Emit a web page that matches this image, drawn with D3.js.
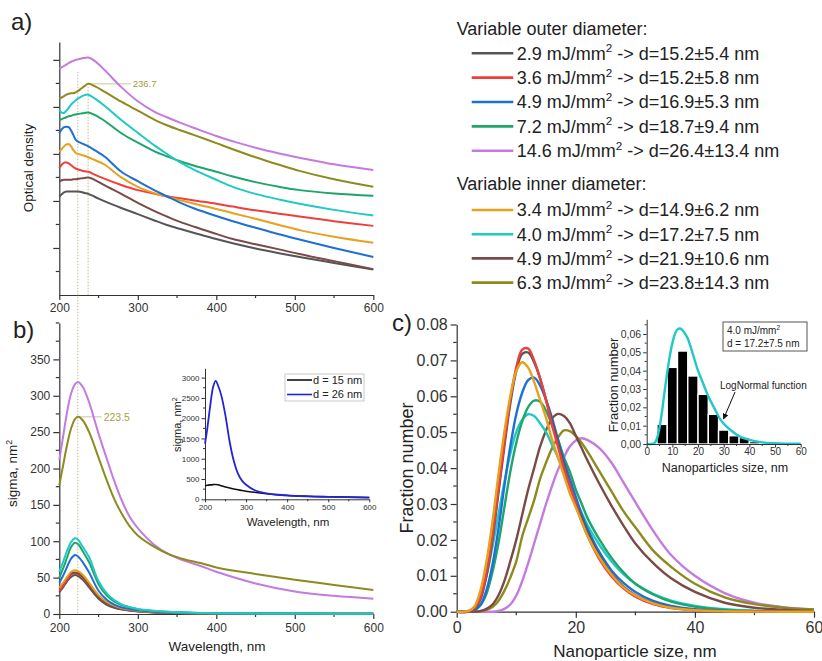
<!DOCTYPE html>
<html><head><meta charset="utf-8">
<script src="https://cdn.jsdelivr.net/npm/d3@7"></script>
<style>
body{margin:0;background:#fff}
svg{display:block}
text{font-family:"Liberation Sans",Arial,Helvetica,sans-serif}
</style>
</head><body>
<svg id="fig" width="822" height="661"></svg>
<script>
// ---------- DATA ----------
const seriesKeys = ["gray","red","blue","green","violet","orange","cyan","brown","olive"];
const seriesColors = {gray:"#555555",red:"#ef3f3c",blue:"#1f6fd4",green:"#1fa56a",violet:"#c47ade",orange:"#e6a11f",cyan:"#1ec9c6",brown:"#7a4a48",olive:"#8d8b1d"};

const legendOuterE = ["2.9","3.6","4.9","7.2","14.6"];
const legendOuterD = ["15.2±5.4","15.2±5.8","16.9±5.3","18.7±9.4","26.4±13.4"];
const legendOuterKeys = ["gray","red","blue","green","violet"];
const legendInnerE = ["3.4","4.0","4.9","6.3"];
const legendInnerD = ["14.9±6.2","17.2±7.5","21.9±10.6","23.8±14.3"];
const legendInnerKeys = ["orange","cyan","brown","olive"];

// panel a: optical density (arb. units)
const wlA = [200,203,206,209,212,215,218,221,224,228,232,237,245,258,279,300,322,337,353,372,400,421,450,480,506,550,600];
const odGray   = [2.09,2.14,2.18,2.20,2.20,2.20,2.20,2.20,2.20,2.19,2.17,2.15,2.09,1.99,1.85,1.72,1.58,1.49,1.41,1.32,1.19,1.10,0.99,0.89,0.81,0.68,0.54];
const odRed    = [2.70,2.77,2.81,2.82,2.80,2.76,2.72,2.69,2.67,2.65,2.63,2.62,2.56,2.47,2.34,2.23,2.15,2.10,2.06,2.01,1.94,1.88,1.80,1.73,1.67,1.57,1.47];
const odBlue   = [3.44,3.52,3.57,3.58,3.57,3.50,3.40,3.30,3.26,3.23,3.20,3.16,3.08,2.94,2.62,2.42,2.22,2.10,1.97,1.84,1.68,1.57,1.43,1.29,1.18,1.00,0.81];
const odGreen  = [3.72,3.74,3.76,3.78,3.80,3.81,3.83,3.84,3.85,3.86,3.87,3.88,3.83,3.70,3.44,3.24,3.05,2.95,2.85,2.75,2.62,2.52,2.40,2.30,2.23,2.16,2.11];
const odViolet = [4.81,4.84,4.87,4.90,4.93,4.96,4.98,5.00,5.01,5.03,5.04,5.05,4.98,4.78,4.42,4.12,3.89,3.78,3.67,3.55,3.38,3.27,3.13,3.01,2.92,2.78,2.66];
const odOrange = [3.05,3.10,3.16,3.20,3.21,3.16,3.08,3.02,3.00,2.98,2.96,2.93,2.87,2.77,2.50,2.30,2.16,2.09,2.02,1.94,1.83,1.74,1.62,1.49,1.38,1.24,1.11];
const odCyan   = [3.94,3.88,3.87,3.92,3.98,4.05,4.10,4.14,4.18,4.22,4.25,4.26,4.18,4.02,3.72,3.45,3.17,3.00,2.83,2.66,2.45,2.30,2.15,2.03,1.94,1.81,1.69];
const odBrown  = [2.41,2.44,2.45,2.45,2.45,2.45,2.46,2.46,2.47,2.48,2.49,2.50,2.45,2.33,2.15,1.96,1.78,1.67,1.56,1.45,1.30,1.19,1.08,0.97,0.87,0.72,0.55];
const odOlive  = [4.18,4.20,4.23,4.26,4.28,4.29,4.29,4.31,4.34,4.39,4.44,4.49,4.44,4.32,4.11,3.92,3.72,3.61,3.51,3.40,3.23,3.10,2.93,2.77,2.64,2.46,2.30];
const peakA = 236.7;

// panel b: sigma, nm^2
const wlB = [200,205,210,215,220,224,230,238,250,260,270,280,290,300,320,340,360,380,400,450,500,550,600];
const sgGray   = [30,37,45,51,53.5,52,47,36.5,21,13,8.5,6,4.5,3.5,2.2,1.5,1.1,0.8,0.6,0.4,0.3,0.2,0.2];
const sgRed    = [32,39,47,54,56,55,50,39,24,15,10,7,5,4,2.5,1.7,1.2,0.9,0.7,0.5,0.4,0.3,0.2];
const sgBlue   = [43,53,65,76,81,79,71,57,32,20,13,9,7,5,3.2,2.2,1.6,1.2,1,0.7,0.5,0.4,0.3];
const sgGreen  = [50,63,78,92,98,96,86,71,41,26,17,12,9,6.5,4,2.8,2,1.5,1.2,0.8,0.6,0.5,0.4];
const sgViolet = [212,245,278,303,316,319,312,291,248,215,183,155,133,118,96,82,73,66,58,42,31,25,21];
const sgOrange = [36,43,51,58,60,59,54,43,26,17,11.5,8,6,4.5,3,2,1.5,1.1,0.9,0.6,0.4,0.3,0.3];
const sgCyan   = [58,72,87,99,104,102,92,78,45,29,19,13,9.5,7,4.5,3,2,1.5,1.2,0.8,0.6,0.5,0.4];
const sgBrown  = [36,42,50,56,57,56,51,40,24,15,10,7,5,3.8,2.4,1.6,1.2,0.9,0.7,0.5,0.4,0.3,0.2];
const sgOlive  = [177,205,233,255,268,271,266,250,215,185,158,137,120,108,93,82,75,70,64,55,47,40,33];
const peakB = 223.5;

// panel b inset
const wlBi = [200,205,212,220,226,232,240,250,260,270,280,290,300,320,350,400,450,500,600];
const sgD15 = [335,345,355,362,365,358,335,305,278,255,236,218,200,172,135,95,75,62,45];
const sgD26 = [1370,1700,2250,2780,2920,2800,2550,2050,1420,950,640,460,360,230,145,95,72,60,42];
const insetBLabels = ["d = 15 nm","d = 26 nm"];

// panel c: fraction number vs size
const sizeC = [0,2,3,4,5,6,7,8,9,10,11,12,13,14,15,16,17,18,19,20,21,22,24,26,28,30,33,36,40,45,50,55,60];
const fnGray   = [0,0,0.0008,0.0035,0.010,0.020,0.033,0.046,0.058,0.067,0.0718,0.0722,0.0695,0.065,0.059,0.053,0.047,0.041,0.035,0.030,0.026,0.022,0.0155,0.0105,0.007,0.0046,0.0024,0.0012,0.0005,0.00015,0.00005,0,0];
const fnRed    = [0,0,0.001,0.004,0.011,0.021,0.034,0.047,0.059,0.068,0.073,0.0733,0.070,0.065,0.059,0.052,0.046,0.040,0.035,0.030,0.025,0.021,0.0145,0.0098,0.0065,0.0042,0.0021,0.0010,0.0004,0.0001,0.00003,0,0];
const fnBlue   = [0,0,0.0005,0.002,0.006,0.013,0.023,0.035,0.046,0.055,0.061,0.0645,0.0652,0.063,0.059,0.054,0.048,0.042,0.037,0.032,0.027,0.023,0.0165,0.0115,0.008,0.0055,0.003,0.0016,0.0007,0.0002,0.00006,0,0];
const fnGreen  = [0,0,0.0004,0.0018,0.005,0.011,0.019,0.029,0.039,0.047,0.053,0.057,0.0588,0.0585,0.056,0.052,0.048,0.043,0.039,0.034,0.030,0.026,0.020,0.015,0.011,0.0078,0.0048,0.0028,0.0014,0.0005,0.00017,0.00005,0];
const fnViolet = [0,0,0,0,0,0,0.0002,0.0008,0.002,0.0045,0.0085,0.0135,0.019,0.0245,0.030,0.035,0.0395,0.043,0.046,0.0477,0.0483,0.0478,0.0455,0.0415,0.036,0.0305,0.0225,0.0158,0.0100,0.0052,0.0025,0.0012,0.0006];
const fnOrange = [0,0.0002,0.0015,0.006,0.014,0.025,0.038,0.050,0.060,0.067,0.0695,0.068,0.064,0.059,0.054,0.048,0.043,0.038,0.033,0.029,0.025,0.021,0.0150,0.0103,0.0068,0.0045,0.0023,0.0011,0.0004,0.00012,0.00003,0,0];
const fnCyan   = [0,0.0002,0.0012,0.0045,0.010,0.018,0.027,0.036,0.044,0.050,0.0535,0.055,0.0545,0.0525,0.050,0.0465,0.043,0.039,0.035,0.031,0.0275,0.024,0.0185,0.014,0.0105,0.0078,0.005,0.0031,0.0016,0.0007,0.0003,0.0001,0.00004];
const fnBrown  = [0,0,0,0.0002,0.0008,0.002,0.0045,0.0085,0.014,0.020,0.027,0.034,0.040,0.046,0.0505,0.0538,0.0551,0.0545,0.0525,0.049,0.0455,0.042,0.0355,0.0295,0.024,0.019,0.0135,0.0093,0.0055,0.0025,0.0011,0.0005,0.0002];
const fnOlive  = [0,0,0,0.0001,0.0005,0.0013,0.003,0.0058,0.0095,0.014,0.021,0.026,0.031,0.037,0.0415,0.0455,0.0485,0.0505,0.0503,0.049,0.047,0.0445,0.039,0.0335,0.028,0.0235,0.017,0.0125,0.0078,0.0040,0.0021,0.0011,0.0006];

// panel c inset: histogram + lognormal fit for 4.0 mJ/mm2
const binStart = [4,8,12,16,20,24,28,32,36,40,44,48,52,56];
const binValue = [0.0107,0.0418,0.0507,0.0371,0.0271,0.0162,0.0076,0.0045,0.0035,0.0013,0.0007,0.0005,0.0003,0.0002];
const binWidth = 4;
const sizeCi = [0,2,3,4,5,6,7,8,9,10,11,12,13,14,15,16,17,18,20,22,24,26,28,30,33,36,40,45,50,55,60];
const fitCi  = [0,0,0.0005,0.003,0.009,0.018,0.029,0.039,0.048,0.055,0.060,0.0625,0.063,0.062,0.060,0.0575,0.0535,0.049,0.040,0.033,0.026,0.0205,0.015,0.011,0.0072,0.0043,0.0022,0.0009,0.0004,0.0002,0.0001];
const insetCBox = ["4.0 mJ/mm","d = 17.2±7.5 nm"];

const dataA = {gray:odGray,red:odRed,blue:odBlue,green:odGreen,violet:odViolet,orange:odOrange,cyan:odCyan,brown:odBrown,olive:odOlive};
const dataB = {gray:sgGray,red:sgRed,blue:sgBlue,green:sgGreen,violet:sgViolet,orange:sgOrange,cyan:sgCyan,brown:sgBrown,olive:sgOlive};
const dataC = {gray:fnGray,red:fnRed,blue:fnBlue,green:fnGreen,violet:fnViolet,orange:fnOrange,cyan:fnCyan,brown:fnBrown,olive:fnOlive};

// ---------- DRAW ----------
const svg = d3.select("#fig");
const AX = "#333";
const FONT = '"Liberation Sans",Arial,Helvetica,sans-serif';

const xA = d3.scaleLinear().domain([200,600]).range([59.3,373.3]);
const yA = d3.scaleLinear().domain([0,5.38]).range([295,42]);
const yB = d3.scaleLinear().domain([0,400]).range([614,323]);
const xBi = d3.scaleLinear().domain([200,600]).range([205,369.3]);
const yBi = d3.scaleLinear().domain([0,3230]).range([499.3,368.3]);
const xC = d3.scaleLinear().domain([0,60]).range([456.7,814]);
const yC = d3.scaleLinear().domain([0,0.08]).range([611.7,324.5]);
const xCi = d3.scaleLinear().domain([0,60]).range([646.7,800.7]);
const yCi = d3.scaleLinear().domain([0,0.068]).range([444,319.3]);

function axis(orient, scale, pos, majors, minors, fmt, o){
  const a = (orient==="left"?d3.axisLeft(scale):d3.axisBottom(scale))
    .tickValues(majors).tickFormat(fmt).tickSize(o.major).tickSizeOuter(0).tickPadding(o.pad);
  const g = svg.append("g")
    .attr("transform", orient==="left"?`translate(${pos},0)`:`translate(0,${pos})`).call(a);
  g.select(".domain").attr("stroke",AX).attr("stroke-width",o.sw||1.2);
  g.selectAll(".tick line").attr("stroke",AX).attr("stroke-width",o.sw||1.2);
  g.selectAll(".tick text").attr("font-size",o.fs).attr("fill","#333").attr("font-family",FONT);
  g.selectAll(".minor").data(minors).enter().append("line")
    .attr("stroke",AX).attr("stroke-width",o.sw||1.2)
    .attr(orient==="left"?"y1":"x1", d=>scale(d)).attr(orient==="left"?"y2":"x2", d=>scale(d))
    .attr(orient==="left"?"x1":"y1",0).attr(orient==="left"?"x2":"y2", orient==="left"?-o.minor:o.minor);
  return g;
}
function label(txt,x,y,fs,opt){
  opt=opt||{};
  const t = svg.append("text").attr("x",x).attr("y",y).attr("font-size",fs)
    .attr("fill",opt.fill||"#222").attr("text-anchor",opt.anchor||"start");
  if(opt.rotate) t.attr("transform",`rotate(-90,${x},${y})`);
  t.text(txt);
  if(opt.sup){ t.append("tspan").attr("dy",-fs*0.4).attr("font-size",fs*0.65).text(opt.sup); }
  return t;
}
function curves(keys, xs, data, xs_, ys_, sw){
  const line = d3.line().x((d,i)=>xs_(xs[i])).y(d=>ys_(d)).curve(d3.curveCatmullRom.alpha(0.5));
  keys.forEach(k=>{
    svg.append("path").attr("d",line(data[k])).attr("fill","none")
      .attr("stroke",seriesColors[k]).attr("stroke-width",sw).attr("stroke-linejoin","round");
  });
}
const range = (a,b,s)=>d3.range(a,b+1e-9,s);

// ===== panel a =====
label("a)",11,30,24);
axis("left", yA, xA(200), [1,2,3,4,5], range(0.5,4.5,1), ()=> "", {major:6,minor:3.5,pad:3,fs:11});
axis("bottom", xA, yA(0), range(200,600,100), range(250,550,100), d3.format("d"), {major:5,minor:3,pad:3,fs:12});
label("Optical density",33,168,13.5,{rotate:true,anchor:"middle"});
const refColor = "#cdc79a";
const olivePeakA = d3.max(odOlive);
svg.append("line").attr("x1",xA(peakB)).attr("x2",xA(peakB)).attr("y1",yA(4.75)).attr("y2",yB(0))
  .attr("stroke",refColor).attr("stroke-width",1.2).attr("stroke-dasharray","1.5,1.5");
svg.append("line").attr("x1",xA(peakA)).attr("x2",xA(peakA)).attr("y1",yA(olivePeakA)).attr("y2",yA(0))
  .attr("stroke",refColor).attr("stroke-width",1.2).attr("stroke-dasharray","1.5,1.5");
svg.append("line").attr("x1",xA(peakA)).attr("x2",xA(291)).attr("y1",yA(olivePeakA)).attr("y2",yA(olivePeakA))
  .attr("stroke","#c9c6a6").attr("stroke-width",1);
label(String(peakA), xA(291)+2, yA(olivePeakA)+3.5, 9.5, {fill:"#a29c3c"});
curves(["gray","brown","red","orange","blue","green","cyan","olive","violet"], wlA, dataA, xA, yA, 2);

// ===== legend =====
label("Variable outer diameter:",456.7,34.6,18);
legendOuterKeys.forEach((k,i)=>{
  const cy = 53.3 + i*24.35;
  svg.append("line").attr("x1",471.7).attr("x2",513.3).attr("y1",cy).attr("y2",cy)
    .attr("stroke",seriesColors[k]).attr("stroke-width",2.6);
  const t = label(legendOuterE[i]+" mJ/mm",516.7,cy+6.3,18,{sup:"2"});
  t.append("tspan").attr("dy",18*0.4).text(" -> d="+legendOuterD[i]+" nm");
});
label("Variable inner diameter:",456.7,189.6,18);
legendInnerKeys.forEach((k,i)=>{
  const cy = 210 + i*24.2;
  svg.append("line").attr("x1",471.7).attr("x2",513.3).attr("y1",cy).attr("y2",cy)
    .attr("stroke",seriesColors[k]).attr("stroke-width",2.6);
  const t = label(legendInnerE[i]+" mJ/mm",516.7,cy+6.3,18,{sup:"2"});
  t.append("tspan").attr("dy",18*0.4).text(" -> d="+legendInnerD[i]+" nm");
});

// ===== panel b =====
label("b)",13,338,24);
axis("left", yB, xA(200), range(0,350,50), range(25,375,50).concat([400]), d3.format("d"), {major:6,minor:3.5,pad:3,fs:12});
axis("bottom", xA, yB(0), range(200,600,100), range(250,550,100), d3.format("d"), {major:5,minor:3,pad:4,fs:12});
label("sigma, nm",17,507,13.5,{rotate:true,sup:"2"});
label("Wavelength, nm",217,651,13.5,{anchor:"middle"});
const olivePeakB = d3.max(sgOlive);
svg.append("line").attr("x1",xA(peakB)).attr("x2",xA(254)).attr("y1",yB(olivePeakB)).attr("y2",yB(olivePeakB))
  .attr("stroke","#c9c6a6").attr("stroke-width",1);
label(String(peakB), xA(254)+2, yB(olivePeakB)+4, 10.5, {fill:"#a8a23c"});
curves(["gray","red","brown","orange","blue","green","cyan","violet","olive"], wlB, dataB, xA, yB, 2);

// inset b
axis("left", yBi, xBi(200), range(0,3000,500), range(250,3000,500), d3.format("d"), {major:3.5,minor:2,pad:2,fs:8,sw:1});
axis("bottom", xBi, yBi(0), range(200,600,100), range(250,550,100), d3.format("d"), {major:3,minor:2,pad:2,fs:8,sw:1});
label("sigma, nm",181,452,11,{rotate:true,sup:"2"});
label("Wavelength, nm",288,526,11.5,{anchor:"middle"});
const lineBi = (arr)=> d3.line().x((d,i)=>xBi(wlBi[i])).y(d=>yBi(d)).curve(d3.curveCatmullRom.alpha(0.5))(arr);
svg.append("path").attr("d",lineBi(sgD15)).attr("fill","none").attr("stroke","#111").attr("stroke-width",1.6);
svg.append("path").attr("d",lineBi(sgD26)).attr("fill","none").attr("stroke","#2424d6").attr("stroke-width",1.8);
svg.append("rect").attr("x",285).attr("y",374).attr("width",79).attr("height",27).attr("fill","#fff").attr("stroke","#bbb").attr("stroke-width",0.8);
[["#111",380],["#2424d6",394.5]].forEach((c,i)=>{
  svg.append("line").attr("x1",287).attr("x2",312).attr("y1",c[1]).attr("y2",c[1]).attr("stroke",c[0]).attr("stroke-width",1.6);
  label(insetBLabels[i],313,c[1]+3.8,11,{fill:"#222"});
});

// ===== panel c =====
label("c)",392,331,24);
axis("left", yC, xC(0), range(0,0.08,0.01), range(0.005,0.075,0.01), d3.format(".2f"), {major:6,minor:3.5,pad:3,fs:16});
axis("bottom", xC, yC(0), [0,20,40,60], [10,30,50], d3.format("d"), {major:6,minor:3.5,pad:4,fs:16});
label("Fraction number",413,468,18,{rotate:true,anchor:"middle"});
label("Nanoparticle size, nm",635,657,17,{anchor:"middle"});
curves(["violet","olive","brown","cyan","green","blue","gray","red","orange"], sizeC, dataC, xC, yC, 2.4);

// inset c
svg.selectAll(".bin").data(binValue).enter().append("rect")
  .attr("x",(d,i)=>xCi(binStart[i])).attr("width",(d,i)=>xCi(binStart[i]+binWidth)-xCi(binStart[i]))
  .attr("y",d=>yCi(d)).attr("height",d=>yCi(0)-yCi(d))
  .attr("fill","#000").attr("stroke","#fff").attr("stroke-width",1.4);
const lineCi = d3.line().x((d,i)=>xCi(sizeCi[i])).y(d=>yCi(d)).curve(d3.curveCatmullRom.alpha(0.5));
svg.append("path").attr("d",lineCi(fitCi)).attr("fill","none").attr("stroke",seriesColors.cyan).attr("stroke-width",2.4);
const commaFmt = d=>d3.format(".2f")(d).replace(".",",");
axis("left", yCi, xCi(0), range(0,0.06,0.01), range(0.005,0.065,0.01), commaFmt, {major:3.5,minor:2,pad:2,fs:10.5,sw:1});
axis("bottom", xCi, yCi(0), range(0,60,10), range(5,55,10), d3.format("d"), {major:3.5,minor:2,pad:0.5,fs:10,sw:1});
label("Fraction number",617.5,385,13,{rotate:true,anchor:"middle"});
label("Nanoparticles size, nm",725,472,12.5,{anchor:"middle"});
svg.append("rect").attr("x",723).attr("y",322).attr("width",84).attr("height",29).attr("fill","#fff").attr("stroke","#555").attr("stroke-width",1);
label(insetCBox[0],727,334,10,{sup:"2"});
label(insetCBox[1],727,347,10);
label("LogNormal function",720,389,10);
svg.append("defs").append("marker").attr("id","ah").attr("viewBox","0 0 10 10").attr("refX",9).attr("refY",5)
  .attr("markerWidth",6).attr("markerHeight",6).attr("orient","auto")
  .append("path").attr("d","M0,0 L10,5 L0,10 z").attr("fill","#111");
svg.append("line").attr("x1",735).attr("y1",392).attr("x2",723.5).attr("y2",419)
  .attr("stroke","#111").attr("stroke-width",1).attr("marker-end","url(#ah)");
</script>
</body></html>
